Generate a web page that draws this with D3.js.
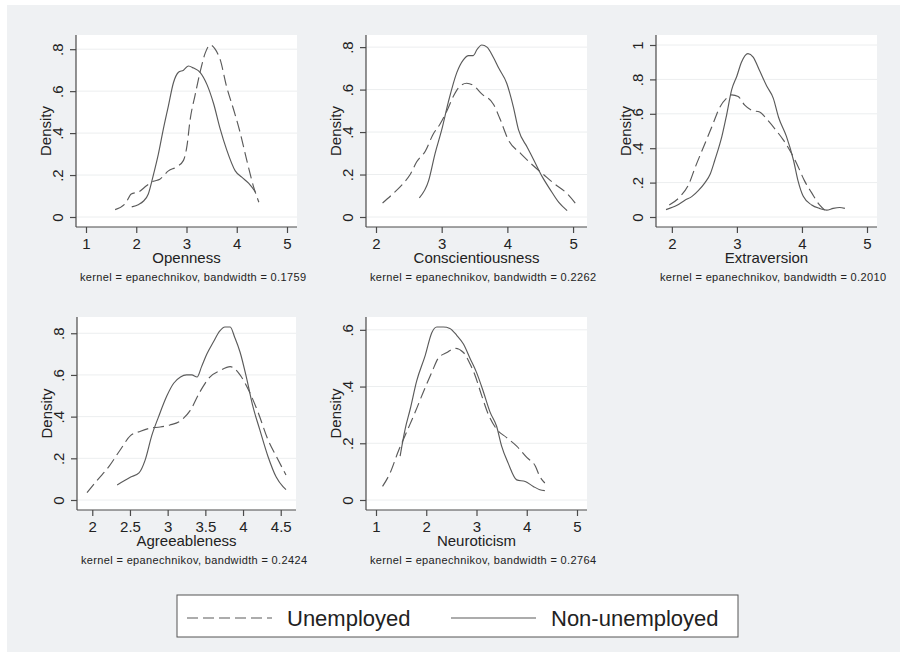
<!DOCTYPE html>
<html>
<head>
<meta charset="utf-8">
<script src="https://cdn.jsdelivr.net/npm/d3@7"></script>
<style>
body { margin: 0; background: #fff; }
text { font-family: "Liberation Sans", Arial, sans-serif; fill: #222; }
</style>
</head>
<body>
<div id="chart"></div>
<script>
var svgWidth = 900;
var svgHeight = 652;

// chart data
var traits = ["Openness", "Conscientiousness", "Extraversion", "Agreeableness", "Neuroticism"];
var bandwidths = ["0.1759", "0.2262", "0.2010", "0.2424", "0.2764"];
var seriesNames = ["Unemployed", "Non-unemployed"];
var xTicks = [[1, 2, 3, 4, 5], [2, 3, 4, 5], [2, 3, 4, 5], [2, 2.5, 3, 3.5, 4, 4.5], [1, 2, 3, 4, 5]];
var yTicks = [[0, .2, .4, .6, .8], [0, .2, .4, .6, .8], [0, .2, .4, .6, .8, 1], [0, .2, .4, .6, .8], [0, .2, .4, .6]];

var opennessUnemp = [[1.58,.035],[1.80,.07],[1.90,.11],[2.05,.12],[2.21,.15],[2.34,.17],[2.47,.18],[2.64,.22],[2.81,.24],[2.94,.27],[3.01,.34],[3.07,.46],[3.17,.58],[3.27,.69],[3.37,.78],[3.47,.82],[3.57,.80],[3.67,.75],[3.80,.62],[3.94,.51],[4.07,.40],[4.20,.27],[4.34,.14],[4.44,.07]];
var opennessNon = [[1.91,.048],[2.05,.06],[2.14,.075],[2.24,.11],[2.34,.20],[2.44,.30],[2.54,.42],[2.64,.53],[2.74,.64],[2.84,.69],[2.94,.70],[3.04,.72],[3.14,.71],[3.27,.69],[3.41,.63],[3.54,.54],[3.67,.42],[3.80,.32],[3.97,.22],[4.10,.19],[4.24,.16],[4.37,.12]];

var conscUnemp = [[2.10,.066],[2.26,.11],[2.42,.16],[2.52,.20],[2.62,.26],[2.75,.31],[2.87,.39],[2.98,.44],[3.08,.50],[3.18,.57],[3.26,.61],[3.38,.63],[3.48,.62],[3.61,.58],[3.79,.53],[3.89,.46],[4.02,.36],[4.20,.30],[4.40,.24],[4.55,.20],[4.70,.16],[4.91,.11],[5.06,.055]];
var conscNon = [[2.66,.09],[2.80,.17],[2.90,.30],[3.00,.41],[3.10,.54],[3.23,.68],[3.33,.74],[3.41,.76],[3.48,.76],[3.54,.79],[3.61,.81],[3.69,.80],[3.79,.75],[3.87,.70],[3.99,.63],[4.09,.52],[4.17,.41],[4.30,.33],[4.40,.27],[4.53,.19],[4.65,.13],[4.78,.07],[4.91,.03]];

var extraUnemp = [[1.96,.07],[2.13,.12],[2.26,.19],[2.36,.29],[2.49,.41],[2.61,.52],[2.74,.64],[2.84,.69],[2.92,.71],[3.02,.70],[3.12,.65],[3.23,.62],[3.35,.61],[3.48,.56],[3.61,.50],[3.71,.45],[3.81,.39],[3.92,.31],[4.04,.21],[4.15,.14],[4.27,.07],[4.35,.04]];
var extraNon = [[1.91,.043],[2.08,.068],[2.20,.097],[2.31,.12],[2.41,.155],[2.51,.20],[2.59,.25],[2.66,.33],[2.77,.47],[2.84,.59],[2.92,.74],[3.00,.82],[3.07,.90],[3.17,.95],[3.25,.93],[3.35,.85],[3.46,.76],[3.56,.69],[3.64,.58],[3.76,.47],[3.87,.33],[3.94,.21],[4.02,.12],[4.15,.07],[4.27,.05],[4.38,.04],[4.48,.05],[4.58,.055],[4.66,.05]];

var agreeUnemp = [[1.93,.035],[2.07,.097],[2.22,.16],[2.37,.24],[2.51,.31],[2.64,.33],[2.77,.345],[2.90,.35],[3.03,.36],[3.17,.38],[3.30,.43],[3.43,.52],[3.56,.59],[3.69,.62],[3.83,.64],[3.96,.60],[4.07,.53],[4.20,.42],[4.33,.29],[4.44,.21],[4.57,.12]];
var agreeNon = [[2.33,.072],[2.51,.11],[2.62,.13],[2.70,.19],[2.79,.31],[2.88,.40],[2.99,.50],[3.08,.56],[3.17,.59],[3.25,.60],[3.32,.60],[3.39,.59],[3.45,.64],[3.52,.70],[3.61,.76],[3.69,.81],[3.76,.83],[3.83,.83],[3.89,.78],[3.96,.71],[4.05,.58],[4.13,.45],[4.22,.34],[4.33,.21],[4.44,.11],[4.53,.064],[4.57,.05]];

var neuroUnemp = [[1.13,.048],[1.28,.095],[1.44,.17],[1.61,.24],[1.78,.31],[1.94,.38],[2.11,.45],[2.24,.50],[2.41,.52],[2.57,.535],[2.74,.52],[2.87,.48],[2.97,.44],[3.10,.37],[3.24,.30],[3.40,.25],[3.60,.22],[3.80,.19],[4.00,.15],[4.17,.12],[4.26,.083],[4.36,.06]];
var neuroNon = [[1.48,.155],[1.58,.25],[1.68,.32],[1.81,.42],[1.98,.51],[2.11,.59],[2.21,.61],[2.34,.61],[2.47,.605],[2.61,.58],[2.74,.55],[2.87,.50],[3.00,.45],[3.14,.38],[3.27,.31],[3.40,.26],[3.50,.19],[3.63,.13],[3.80,.071],[3.97,.065],[4.13,.048],[4.26,.036],[4.36,.033]];

var unempCurves = [opennessUnemp, conscUnemp, extraUnemp, agreeUnemp, neuroUnemp];
var nonCurves = [opennessNon, conscNon, extraNon, agreeNon, neuroNon];

// plot boxes of the five panels (pixels)
var panelBoxes = [
    {left: 76, right: 297, top: 35, bottom: 227},
    {left: 366, right: 587, top: 35, bottom: 227},
    {left: 656, right: 877, top: 35, bottom: 227},
    {left: 77, right: 296, top: 317, bottom: 510},
    {left: 366, right: 587, top: 317, bottom: 510}
];
var pad = 10;
var lineColor = "#5a5a5a";
var axisColor = "#4a4a4a";
var dashPattern = "11,5";

var svg = d3.select("#chart")
    .append("svg")
    .attr("width", svgWidth)
    .attr("height", svgHeight);

svg.append("rect")
    .attr("x", 7).attr("y", 5)
    .attr("width", svgWidth - 7).attr("height", svgHeight - 5)
    .attr("fill", "#eff1f3");

traits.forEach(function(trait, i) {
    var box = panelBoxes[i];
    var all = unempCurves[i].concat(nonCurves[i]);
    var xt = xTicks[i], yt = yTicks[i];

    var xScale = d3.scaleLinear()
        .domain([Math.min(d3.min(all, d => d[0]), xt[0]), Math.max(d3.max(all, d => d[0]), xt[xt.length - 1])])
        .range([box.left + pad, box.right - pad]);
    var yScale = d3.scaleLinear()
        .domain([0, Math.max(d3.max(all, d => d[1]), yt[yt.length - 1])])
        .range([box.bottom - pad, box.top + pad]);

    var g = svg.append("g");

    // white plot region
    g.append("rect")
        .attr("x", box.left).attr("y", box.top)
        .attr("width", box.right - box.left).attr("height", box.bottom - box.top)
        .attr("fill", "#fff");

    // faint grid
    g.selectAll("line.grid")
        .data(yt)
        .enter()
        .append("line")
        .attr("x1", box.left).attr("x2", box.right)
        .attr("y1", d => yScale(d)).attr("y2", d => yScale(d))
        .attr("stroke", "#eceeef")
        .attr("stroke-width", 1);

    // x axis
    var bottomAxis = d3.axisBottom(xScale)
        .tickValues(xt)
        .tickSize(6)
        .tickSizeOuter(0)
        .tickFormat(d3.format("~g"));
    var xAxis = g.append("g")
        .attr("transform", `translate(0, ${box.bottom})`)
        .call(bottomAxis);
    xAxis.select(".domain")
        .attr("d", `M${box.left},0H${box.right}`)
        .attr("stroke", axisColor).attr("stroke-width", 1.2);
    xAxis.selectAll(".tick line").attr("stroke", axisColor).attr("stroke-width", 1.2);
    xAxis.selectAll(".tick text")
        .attr("y", 21.5).attr("dy", null)
        .style("font-size", "15px")
        .attr("fill", "#2a2a2a")
        .style("font-family", "Liberation Sans, Arial, sans-serif");

    // y axis, labels turned like Stata's
    var leftAxis = d3.axisLeft(yScale)
        .tickValues(yt)
        .tickSize(6)
        .tickSizeOuter(0)
        .tickFormat(d => d === 0 ? "0" : d3.format("~g")(d).replace(/^0\./, "."));
    var yAxis = g.append("g")
        .attr("transform", `translate(${box.left}, 0)`)
        .call(leftAxis);
    yAxis.select(".domain")
        .attr("d", `M0,${box.top}V${box.bottom}`)
        .attr("stroke", axisColor).attr("stroke-width", 1.2);
    yAxis.selectAll(".tick line").attr("stroke", axisColor).attr("stroke-width", 1.2);
    yAxis.selectAll(".tick text")
        .attr("x", null).attr("dy", null)
        .attr("transform", "translate(-13,0) rotate(-90)")
        .attr("text-anchor", "middle")
        .style("font-size", "15px")
        .attr("fill", "#2a2a2a")
        .style("font-family", "Liberation Sans, Arial, sans-serif");

    var line = d3.line()
        .x(d => xScale(d[0]))
        .y(d => yScale(d[1]))
        .curve(d3.curveMonotoneX);

    g.append("path")
        .datum(unempCurves[i])
        .attr("d", line)
        .attr("fill", "none")
        .attr("stroke", lineColor)
        .attr("stroke-width", 1.15)
        .attr("stroke-dasharray", dashPattern);

    g.append("path")
        .datum(nonCurves[i])
        .attr("d", line)
        .attr("fill", "none")
        .attr("stroke", lineColor)
        .attr("stroke-width", 1.15);

    // titles
    g.append("text")
        .attr("transform", `translate(${box.left - 25}, ${(box.top + box.bottom) / 2}) rotate(-90)`)
        .attr("text-anchor", "middle")
        .style("font-size", "15px")
        .text("Density");

    g.append("text")
        .attr("x", (box.left + box.right) / 2)
        .attr("y", box.bottom + 36)
        .attr("text-anchor", "middle")
        .style("font-size", "15px")
        .text(trait);

    g.append("text")
        .attr("x", box.left + 4)
        .attr("y", box.bottom + 54)
        .style("font-size", "11px")
        .style("letter-spacing", "0.35px")
        .text("kernel = epanechnikov, bandwidth = " + bandwidths[i]);
});

// legend
var legend = svg.append("g");
legend.append("rect")
    .attr("x", 177).attr("y", 595)
    .attr("width", 561).attr("height", 42)
    .attr("fill", "#fff")
    .attr("stroke", "#555")
    .attr("stroke-width", 1);

var legendItems = [
    {x1: 187, x2: 272, tx: 287, dash: dashPattern},
    {x1: 451, x2: 536, tx: 551, dash: null}
];
legendItems.forEach(function(item, i) {
    legend.append("line")
        .attr("x1", item.x1).attr("x2", item.x2)
        .attr("y1", 618).attr("y2", 618)
        .attr("stroke", lineColor)
        .attr("stroke-width", 1.15)
        .attr("stroke-dasharray", item.dash);
    legend.append("text")
        .attr("x", item.tx)
        .attr("y", 626)
        .style("font-size", "22px")
        .text(seriesNames[i]);
});
</script>
</body>
</html>
